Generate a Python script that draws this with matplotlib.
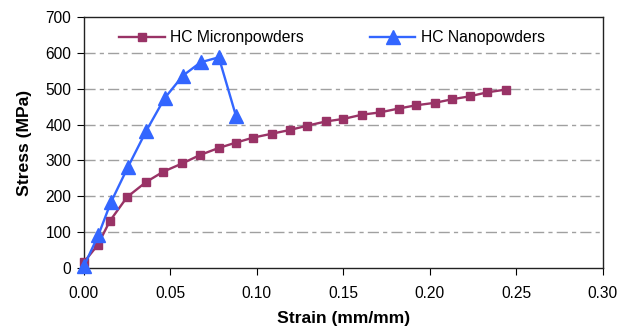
import matplotlib.pyplot as plt

plt.rcParams['font.family'] = ['Liberation Sans', 'DejaVu Sans']

# HC Micronpowders
micron_strain = [0.0, 0.008, 0.015, 0.025, 0.036, 0.046, 0.057, 0.067, 0.078, 0.088,
                 0.098, 0.109, 0.119, 0.129, 0.140, 0.150, 0.161, 0.171, 0.182, 0.192,
                 0.203, 0.213, 0.223, 0.233, 0.244]
micron_stress = [16, 64, 131, 198, 240, 269, 292, 315, 335, 350,
                 364, 375, 385, 397, 409, 416, 428, 434, 445, 454,
                 461, 471, 479, 490, 498]

# HC Nanopowders
nano_strain = [0.0, 0.0084, 0.0156, 0.0256, 0.0361, 0.0467, 0.0573, 0.0675, 0.078, 0.088]
nano_stress = [5, 92, 183, 283, 383, 474, 537, 574, 588, 423]

xticks = [0.00, 0.05, 0.10, 0.15, 0.20, 0.25, 0.30]
yticks = [0, 100, 200, 300, 400, 500, 600, 700]

fig = plt.figure(figsize=(6.26, 3.3), dpi=100)
ax = fig.add_axes([0.134, 0.188, 0.829, 0.760])

ax.plot(micron_strain, micron_stress, color='#993366', lw=1.7, marker='s', ms=6,
        label='HC Micronpowders', clip_on=False, zorder=3)
ax.plot(nano_strain, nano_stress, color='#3366ff', lw=1.7, marker='^', ms=9.5,
        label='HC Nanopowders', clip_on=False, zorder=4)

ax.set_xlim(0, 0.30)
ax.set_ylim(0, 700)
ax.set_xticks(xticks)
ax.set_xticklabels(['%.2f' % t for t in xticks])
ax.set_yticks(yticks)
for t in yticks[1:-1]:
    ax.axhline(t, color='#a0a0a0', lw=1, dashes=(8, 3, 3, 3), zorder=1)

ax.tick_params(direction='out', length=5, labelsize=11.2, colors='black', pad=4)
ax.tick_params(axis='x', pad=8)
for s in ax.spines.values():
    s.set_linewidth(1)
    s.set_color('#222222')

ax.set_xlabel('Strain (mm/mm)', fontsize=12.6, fontweight='bold', labelpad=7)
ax.set_ylabel('Stress (MPa)', fontsize=12.6, fontweight='bold', labelpad=10)

ax.legend(loc='upper center', ncol=2, frameon=False, numpoints=1, fontsize=11.3,
          handlelength=2.9, handletextpad=0.35, columnspacing=4.2,
          bbox_to_anchor=(0.478, 1.005))

fig.savefig('out.png', dpi=100)
